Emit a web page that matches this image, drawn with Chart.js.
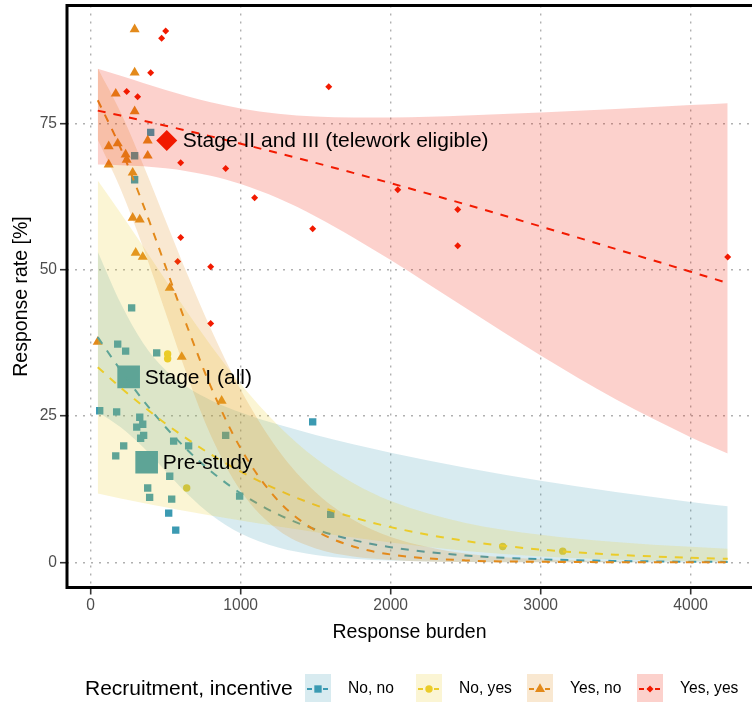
<!DOCTYPE html>
<html>
<head>
<meta charset="utf-8">
<script src="https://cdn.jsdelivr.net/npm/chart.js@4/dist/chart.umd.min.js"></script>
<style>
  html, body { margin: 0; padding: 0; background: #fff; overflow: hidden; }
  canvas { display: block; }
</style>
</head>
<body>
<canvas id="chart" width="752" height="702"></canvas>
<script>
// Response rate vs response burden, by recruitment / incentive group

const groupNames = ['No, no', 'No, yes', 'Yes, no', 'Yes, yes'];

// observed surveys, one pair of arrays per group
const noNoX = [400, 293, 293, 273, 180, 233, 440, 60, 173, 327, 347, 307, 353, 333, 220, 167, 553, 653, 900, 527, 380, 393, 540, 520, 567, 993, 1480, 1600];
const noNoY = [73.5, 69.5, 65.4, 43.5, 37.3, 36.1, 35.8, 25.9, 25.7, 24.8, 23.6, 23.1, 21.7, 21.2, 19.9, 18.2, 20.7, 19.9, 21.7, 14.7, 12.7, 11.1, 10.8, 8.4, 5.5, 11.3, 24.0, 8.2];

const noYesX = [513, 513, 640, 2747, 3147];
const noYesY = [35.6, 34.8, 12.7, 2.7, 1.9];

const yesNoX = [293, 293, 167, 293, 120, 180, 233, 240, 380, 380, 120, 280, 280, 327, 300, 347, 527, 47, 607, 873];
const yesNoY = [91.1, 83.7, 80.1, 77.1, 71.1, 71.6, 69.7, 68.8, 72.1, 69.5, 68.0, 66.6, 58.9, 58.6, 52.9, 52.2, 46.9, 37.7, 35.1, 27.6];

const yesYesX = [500, 473, 400, 240, 313, 600, 900, 1093, 1480, 600, 580, 800, 800, 1587, 2047, 2447, 2447, 4247];
const yesYesY = [90.8, 89.6, 83.7, 80.5, 79.6, 68.3, 67.3, 62.3, 57.0, 55.5, 51.4, 50.5, 40.8, 81.3, 63.7, 60.3, 54.1, 52.2];

const fitX = [47, 200, 350, 500, 650, 800, 1000, 1250, 1500, 1750, 2000, 2500, 3000, 3500, 4000, 4247];

const noNoFit  = [38.48, 32.81, 27.69, 23.09, 19.06, 15.59, 11.79, 8.18, 5.61, 3.81, 2.57, 1.16, 0.52, 0.23, 0.10, 0.07];
const noNoLow  = [25.70, 23.08, 19.67, 15.58, 11.54, 8.17, 4.92, 2.51, 1.26, 0.62, 0.30, 0.07, 0.02, 0.01, 0, 0];
const noNoHigh = [53.09, 44.27, 37.46, 32.83, 29.82, 27.72, 25.62, 23.54, 21.77, 20.18, 18.74, 16.18, 13.94, 12.00, 10.31, 9.56];

const noYesFit  = [33.35, 29.87, 26.67, 23.69, 20.96, 18.46, 15.50, 12.36, 9.77, 7.68, 6.01, 3.64, 2.18, 1.30, 0.77, 0.60];
const noYesLow  = [11.76, 10.92, 10.14, 9.39, 8.67, 8.00, 7.13, 6.10, 5.14, 4.23, 3.38, 1.95, 1.00, 0.48, 0.22, 0.15];
const noYesHigh = [65.26, 59.67, 53.97, 48.20, 42.53, 37.12, 30.48, 23.40, 17.79, 13.55, 10.47, 6.71, 4.70, 3.47, 2.64, 2.31];

const yesNoFit  = [78.99, 70.76, 61.11, 50.50, 39.84, 30.07, 19.47, 10.53, 5.42, 2.71, 1.34, 0.32, 0.08, 0.02, 0.00, 0.00];
const yesNoLow  = [72.23, 63.78, 53.79, 42.60, 31.45, 21.73, 12.25, 5.50, 2.35, 0.98, 0.41, 0.05, 0.01, 0, 0, 0];
const yesNoHigh = [84.47, 76.89, 67.96, 58.38, 48.89, 39.97, 29.50, 19.21, 11.99, 7.27, 4.33, 1.49, 0.51, 0.17, 0.06, 0.03];

const yesYesFit  = [77.21, 76.36, 75.50, 74.62, 73.73, 72.81, 71.56, 69.94, 68.28, 66.57, 64.81, 61.18, 57.41, 53.56, 49.67, 47.74];
const yesYesLow  = [67.98, 67.89, 67.69, 67.34, 66.82, 66.07, 64.65, 62.21, 59.12, 55.54, 51.66, 43.45, 35.34, 27.86, 21.39, 18.61];
const yesYesHigh = [84.38, 83.15, 81.93, 80.75, 79.64, 78.65, 77.58, 76.69, 76.22, 76.04, 76.04, 76.37, 76.88, 77.50, 78.16, 78.49];

// pooled study stages shown as big labelled points
const stageNames = ['Stage II and III (telework eligible)', 'Stage I (all)', 'Pre-study'];
const stageX = [507, 253, 373];
const stageY = [72.1, 31.7, 17.1];
const stageGroup = [3, 0, 0];

const xTicks = [0, 1000, 2000, 3000, 4000];
const yTicks = [0, 25, 50, 75];

const colors = ['#3B9AB2', '#EBCC2A', '#E38A1B', '#F21A00'];
const bandColors = ['rgba(59,154,178,0.2)', 'rgba(235,204,42,0.2)', 'rgba(227,138,27,0.2)', 'rgba(242,26,0,0.2)'];
const shapes = ['rect', 'circle', 'triangle', 'rectRot'];
const shapeSize = [5.2, 3.7, 5.8, 3.5];
const bigSize = [16, 16, 16, 10.5];

const FONT = '"Liberation Sans", Arial, Helvetica, sans-serif';
Chart.defaults.font.family = FONT;

function pts(xs, ys) {
  return xs.map((x, i) => ({ x: x, y: ys[i] }));
}

// chart.js adds label padding around the plot, we want the panel flush
function noPad(s) {
  s.paddingLeft = 0;
  s.paddingRight = 0;
  s.paddingTop = 0;
  s.paddingBottom = 0;
}

const pointSets = [[noNoX, noNoY], [noYesX, noYesY], [yesNoX, yesNoY], [yesYesX, yesYesY]];
const fitSets = [
  [noNoFit, noNoLow, noNoHigh],
  [noYesFit, noYesLow, noYesHigh],
  [yesNoFit, yesNoLow, yesNoHigh],
  [yesYesFit, yesYesLow, yesYesHigh]
];

const datasets = [];

// points go underneath the ribbons (higher order = drawn earlier)
pointSets.forEach((p, i) => {
  datasets.push({
    label: groupNames[i],
    data: pts(p[0], p[1]),
    showLine: false,
    pointStyle: shapes[i],
    pointRadius: shapeSize[i],
    pointBackgroundColor: colors[i],
    pointBorderWidth: 0,
    order: 30 - i
  });
});

datasets.push({
  label: 'stages',
  data: pts(stageX, stageY),
  showLine: false,
  pointStyle: stageGroup.map(g => shapes[g]),
  pointRadius: stageGroup.map(g => bigSize[g]),
  pointBackgroundColor: stageGroup.map(g => colors[g]),
  pointBorderWidth: 0,
  order: 25
});

fitSets.forEach((f, i) => {
  const lowIndex = datasets.length;
  datasets.push({
    label: groupNames[i] + ' low',
    data: pts(fitX, f[1]),
    showLine: true,
    borderWidth: 0,
    borderColor: 'rgba(0,0,0,0)',
    pointRadius: 0,
    fill: false,
    cubicInterpolationMode: 'monotone',
    order: 20 - 2 * i
  });
  datasets.push({
    label: groupNames[i] + ' high',
    data: pts(fitX, f[2]),
    showLine: true,
    borderWidth: 0,
    borderColor: 'rgba(0,0,0,0)',
    backgroundColor: bandColors[i],
    pointRadius: 0,
    fill: lowIndex,
    cubicInterpolationMode: 'monotone',
    order: 20 - 2 * i
  });
  datasets.push({
    label: groupNames[i] + ' fit',
    data: pts(fitX, f[0]),
    showLine: true,
    borderColor: colors[i],
    borderWidth: 2,
    borderDash: [8, 8],
    pointRadius: 0,
    fill: false,
    cubicInterpolationMode: 'monotone',
    order: 19 - 2 * i
  });
});

// frame, stage labels and the bottom legend
const extras = {
  id: 'extras',
  afterDatasetsDraw(chart) {
    const { ctx, scales } = chart;
    ctx.save();
    ctx.fillStyle = '#000';
    ctx.font = '21px ' + FONT;
    ctx.textBaseline = 'middle';
    ctx.textAlign = 'left';
    stageNames.forEach((s, i) => {
      const px = scales.x.getPixelForValue(stageX[i]);
      const py = scales.y.getPixelForValue(stageY[i]);
      ctx.fillText(s, px + 16, py + 1);
    });
    ctx.restore();
  },
  afterDraw(chart) {
    const { ctx, chartArea: a } = chart;
    ctx.save();
    ctx.strokeStyle = '#000';
    ctx.lineWidth = 3;
    ctx.beginPath();
    ctx.moveTo(a.right + 5, a.top);
    ctx.lineTo(a.left, a.top);
    ctx.lineTo(a.left, a.bottom);
    ctx.lineTo(a.right + 5, a.bottom);
    ctx.stroke();

    // legend
    const ly = 689;
    ctx.fillStyle = '#000';
    ctx.textBaseline = 'middle';
    ctx.font = '21px ' + FONT;
    ctx.fillText('Recruitment, incentive', 85, ly);
    const boxX = [305, 416, 527, 637];
    ctx.font = '15.6px ' + FONT;
    groupNames.forEach((n, i) => {
      const bx = boxX[i], bw = 26, bh = 30;
      ctx.fillStyle = bandColors[i];
      ctx.fillRect(bx, ly - bh / 2, bw, bh);
      ctx.strokeStyle = colors[i];
      ctx.lineWidth = 2;
      ctx.setLineDash([5, 3]);
      ctx.beginPath();
      ctx.moveTo(bx + 2, ly);
      ctx.lineTo(bx + bw - 2, ly);
      ctx.stroke();
      ctx.setLineDash([]);
      ctx.fillStyle = colors[i];
      Chart.helpers.drawPoint(ctx, { pointStyle: shapes[i], radius: shapeSize[i], borderWidth: 0 }, bx + bw / 2, ly);
      ctx.fillStyle = '#000';
      ctx.fillText(n, bx + bw + 17, ly);
    });
    ctx.restore();
  }
};

new Chart(document.getElementById('chart'), {
  type: 'scatter',
  data: { datasets: datasets },
  plugins: [extras],
  options: {
    responsive: false,
    animation: false,
    events: [],
    layout: { autoPadding: false, padding: { top: 5.5, left: 0, right: 0, bottom: 0 } },
    plugins: {
      legend: { display: false },
      tooltip: { enabled: false }
    },
    scales: {
      x: {
        type: 'linear',
        min: -158,
        max: 4409,
        afterBuildTicks: s => { s.ticks = xTicks.map(v => ({ value: v })); },
        afterFit: s => { s.height = 114.5; noPad(s); },
        grid: {
          color: '#b0b0b0',
          lineWidth: 1.4,
          tickLength: 7,
          tickColor: '#333',
          tickWidth: 1.6,
          tickBorderDash: []
        },
        border: { display: false, dash: [2, 6] },
        ticks: {
          color: '#4d4d4d',
          font: { size: 15.6 },
          padding: 2,
          maxRotation: 0,
          callback: v => String(v)
        },
        title: {
          display: true,
          text: 'Response burden',
          color: '#000',
          font: { size: 19.5 },
          padding: { top: 0, bottom: 58 }
        }
      },
      y: {
        type: 'linear',
        min: -4.31,
        max: 95.18,
        afterBuildTicks: s => { s.ticks = yTicks.map(v => ({ value: v })); },
        afterFit: s => { s.width = 67; noPad(s); },
        grid: {
          color: '#b0b0b0',
          lineWidth: 1.4,
          tickLength: 7,
          tickColor: '#333',
          tickWidth: 1.6,
          tickBorderDash: []
        },
        border: { display: false, dash: [2, 6] },
        ticks: {
          color: '#4d4d4d',
          font: { size: 15.6 },
          padding: 3,
          callback: v => String(v)
        },
        title: {
          display: true,
          text: 'Response rate [%]',
          color: '#000',
          font: { size: 19.5 },
          padding: { top: 10, bottom: 0 }
        }
      }
    }
  }
});
</script>
</body>
</html>
